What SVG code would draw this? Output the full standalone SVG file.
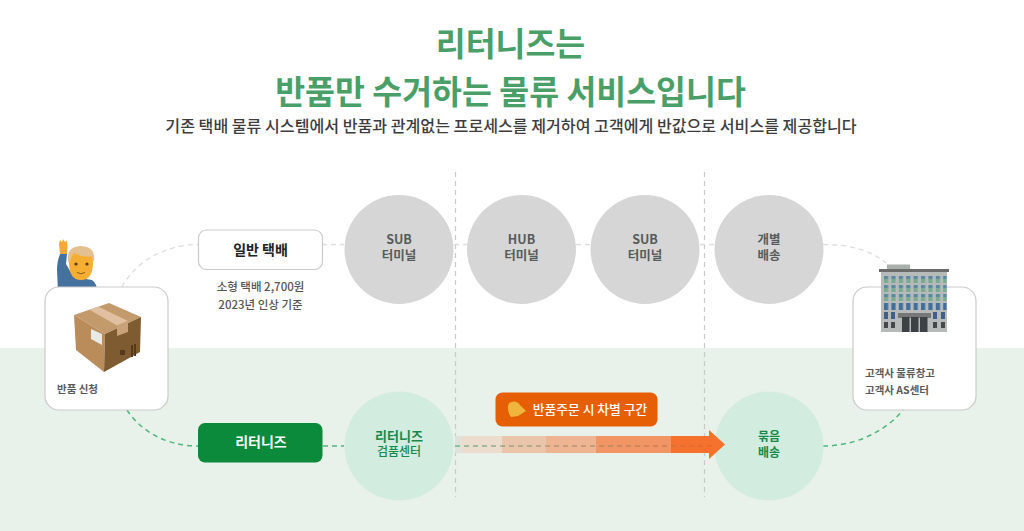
<svg xmlns="http://www.w3.org/2000/svg" width="1024" height="531" viewBox="0 0 1024 531">
<style>
text{font-family:"Noto Sans CJK KR","Noto Sans",sans-serif;text-anchor:middle}
.card{fill:#fff;stroke:#c9ccc9;stroke-width:1.2}
.gc{fill:#d6d6d6}.mc{fill:#d2ece0}
.gl{font-size:12.500px;font-weight:700;fill:#565b5b}
.ml{font-size:13px;font-weight:700;fill:#16894a}
.sm{font-size:11.500px;font-weight:500;fill:#555}
.st{font-size:10.500px;font-weight:700;fill:#5a5a5a;text-anchor:start}
.cg{fill:none;stroke:#dcdedc;stroke-width:1.3;stroke-dasharray:5 4}
.cm{fill:none;stroke:#4db87a;stroke-width:1.500;stroke-dasharray:5 4}
.v{fill:none;stroke:#c9cbc9;stroke-width:1.2;stroke-dasharray:5 4}
</style>
<defs>
<linearGradient id="dash" gradientUnits="userSpaceOnUse" x1="455" y1="0" x2="715" y2="0">
<stop offset="0" stop-color="#3f9f66"/><stop offset=".35" stop-color="#8f8f6d"/><stop offset=".7" stop-color="#a87a5a"/><stop offset="1" stop-color="#e8601c"/>
</linearGradient>
<pattern id="win" patternUnits="userSpaceOnUse" x="884" y="276" width="7.400" height="9">
<rect width="4.200" height="3" fill="#5a8aa0"/><rect y="3" width="4.200" height="4" fill="#79ab90"/>
</pattern>
<pattern id="winb" patternUnits="userSpaceOnUse" x="884" y="303" width="7.400" height="9">
<rect width="4.200" height="7" fill="#3f6f9e"/>
</pattern>
</defs>
<rect width="1024" height="531" fill="#fff"/>
<rect y="348" width="1024" height="183" fill="#e8f1ea"/>
<g id="title">
<text x="510.500" y="56" font-size="32.500" font-weight="700" fill="#4a9f68">리터니즈는</text>
<text x="510.500" y="104" font-size="32.500" font-weight="700" fill="#4a9f68">반품만 수거하는 물류 서비스입니다</text>
<text x="511" y="132" font-size="16.100" font-weight="500" fill="#3d3d3d">기존 택배 물류 시스템에서 반품과 관계없는 프로세스를 제거하여 고객에게 반값으로 서비스를 제공합니다</text>
</g>
<g id="dividers">
<path class="v" d="M455.500 172V497M704.500 172V497"/>
</g>
<g id="connectors">
<path class="cg" d="M122 287C135 262 165 244.500 198 244.500"/>
<path class="cg" d="M322 244.500H344M454 244.500H467M576 244.500H590M700 244.500H714"/>
<path class="cg" d="M823 244.500C850 244.500 870 250 886 263"/>
<path class="cm" d="M127 410C140 430 165 446 198 446"/>
<path class="cm" d="M323 446H344"/>
<path class="cm" d="M823 446C855 446 885 432 903 410"/>
</g>
<g id="sub-terminal-1"><circle class="gc" cx="399" cy="249.500" r="54.500"/><text class="gl" x="399" y="244">SUB<tspan x="399" dy="16">터미널</tspan></text></g>
<g id="hub-terminal"><circle class="gc" cx="521.500" cy="249.500" r="54.500"/><text class="gl" x="521.500" y="244">HUB<tspan x="521.500" dy="16">터미널</tspan></text></g>
<g id="sub-terminal-2"><circle class="gc" cx="645" cy="249.500" r="54.500"/><text class="gl" x="645" y="244">SUB<tspan x="645" dy="16">터미널</tspan></text></g>
<g id="individual-delivery"><circle class="gc" cx="769" cy="249.500" r="54.500"/><text class="gl" x="769" y="244">개별<tspan x="769" dy="16">배송</tspan></text></g>
<g id="inspection-center"><circle class="mc" cx="399" cy="446" r="54.500"/><text class="ml" x="399" y="441">리터니즈<tspan x="399" dy="14.500" font-size="12" font-weight="500">검품센터</tspan></text></g>
<g id="bundle-delivery"><circle class="mc" cx="769" cy="446" r="54.500"/><text class="ml" x="769" y="441" style="font-size:12px">묶음<tspan x="769" dy="16">배송</tspan></text></g>
<g id="general-parcel">
<rect class="card" x="198.500" y="230" width="124" height="39.500" rx="8"/>
<text x="260.500" y="255" font-size="14" font-weight="700" fill="#222">일반 택배</text>
<text class="sm" x="260.500" y="291">소형 택배 2,700원</text>
<text class="sm" x="260.500" y="309">2023년 인상 기준</text>
</g>
<g id="returnz">
<rect x="198" y="423" width="124.500" height="39.500" rx="7" fill="#0a8a3a"/>
<text x="261" y="447" font-size="14" font-weight="700" fill="#fff">리터니즈</text>
</g>
<g id="person">
<path d="M57 270Q57 260 61 252L67 254L66 264L73 276L86 279L92 280Q97 283 97 292H58Z" fill="#45719f"/>
<path d="M60 254L59 244L60 240L62 242L63 239L65 242L67 240.500L67.500 247L67 254Z" fill="#f4a93a"/>
<path d="M69 262Q69 247 81 247Q93 247 93 262Q93 280 81 280Q69 280 69 262Z" fill="#f6ae32"/>
<path d="M68 262Q66 246 81 246Q96 246 94 262L91 256Q84 258 74 253Q71 257 70 262Z" fill="#e2c08f"/>
<circle cx="76" cy="264" r="1.600" fill="#5a3a1a"/><circle cx="87" cy="264" r="1.600" fill="#5a3a1a"/>
<path d="M77 272.500Q81 275 85 272.500" stroke="#8a5a20" fill="none"/>
</g>
<g id="return-request">
<rect class="card" x="45" y="287" width="123" height="123" rx="14"/>
<path d="M74 315L109 303L141 317L105 334Z" fill="#c39a6b"/>
<path d="M74 315L105 334L104 372L76 350Z" fill="#b98c5a"/>
<path d="M105 334L141 317L140 352L104 372Z" fill="#7f5b32"/>
<path d="M90 310L98 306.500L128 321L117 325.500Z" fill="#e0c0a0"/>
<path d="M117 325.500L128 321L128 332L117 336Z" fill="#c9a27a"/>
<path d="M91 329L102 334V345L91 339Z" fill="#e9e9e6"/>
<rect x="120" y="350" width="5" height="5" fill="#54391d"/><rect x="131" y="345" width="2" height="12" fill="#54391d"/><rect x="134" y="344" width="2" height="12" fill="#54391d"/>
<text class="st" x="57" y="393">반품 신청</text>
</g>
<g id="client-warehouse">
<rect class="card" x="853" y="287" width="123" height="123" rx="14"/>
<rect x="887" y="264.500" width="23" height="5" fill="#a9b0ac"/>
<rect x="881" y="272" width="66" height="60" fill="#b6bab8"/>
<rect x="879" y="269" width="70" height="3" fill="#6b6b6b"/>
<rect x="884" y="276" width="62.500" height="25" fill="url(#win)"/>
<rect x="884" y="303" width="62.500" height="7" fill="url(#winb)"/>
<path fill="#3f5f85" d="M884 312h4v7h-4zM891 312h4v7h-4zM933 312h4v7h-4zM941 312h4v7h-4z"/>
<path fill="#44484a" d="M884 322h4v6h-4zM891 322h4v6h-4zM933 322h4v6h-4zM941 322h4v6h-4z"/>
<rect x="898" y="313" width="33" height="5" fill="#777"/>
<rect x="902" y="317" width="7.500" height="15" fill="#3b4145"/><rect x="911" y="317" width="7.500" height="15" fill="#3b4145"/><rect x="920" y="317" width="7.500" height="15" fill="#3b4145"/>
<text class="st" x="865" y="377">고객사 물류창고</text>
<text class="st" x="865" y="394">고객사 AS센터</text>
</g>
<g id="price-arrow">
<rect x="455" y="436" width="6" height="17" fill="#dde3dc"/>
<rect x="461" y="436" width="41" height="17" fill="#ecdccd"/>
<rect x="502" y="436" width="44" height="17" fill="#eac5a9"/>
<rect x="546" y="436" width="50" height="17" fill="#efb491"/>
<rect x="596" y="436" width="75" height="17" fill="#f29565"/>
<path d="M671 436H709V430L725 444.500L709 459V453H671Z" fill="#f4722e"/>
<path d="M455 446H715" fill="none" stroke="url(#dash)" stroke-width="1.200" stroke-dasharray="5 4"/>
</g>
<g id="price-label">
<rect x="495.500" y="392.500" width="162" height="34" rx="7" fill="#e65f05"/>
<path d="M509 403Q516 399 520 405L526 411L518 416L511 417Q506 410 509 403Z" fill="#f0b53c"/>
<text x="590" y="414" font-size="12.800" font-weight="500" fill="#fff">반품주문 시 차별 구간</text>
</g>
</svg>
